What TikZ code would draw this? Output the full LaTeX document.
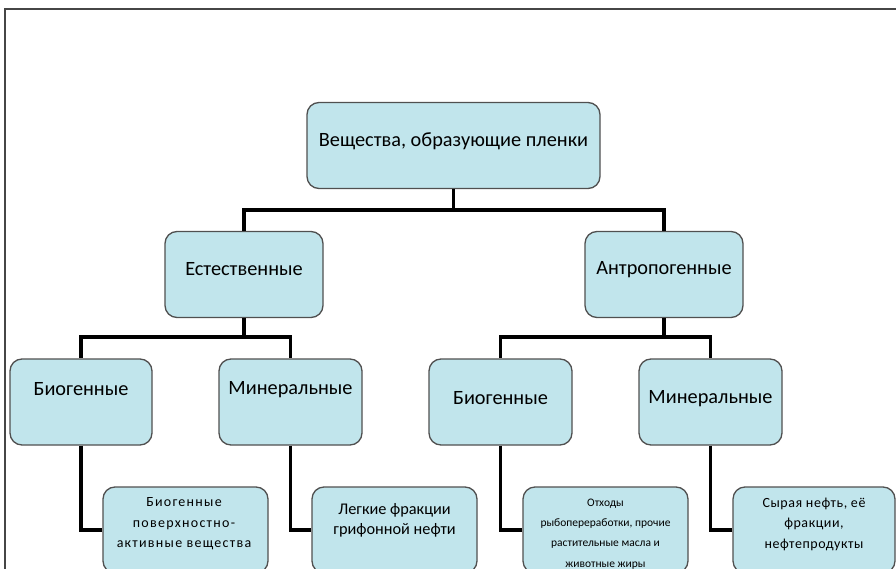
\documentclass[tikz,border=0pt]{standalone}
\usepackage{fontspec}
\setmainfont{Carlito}
\definecolor{boxfill}{RGB}{193,229,236}
\definecolor{boxline}{RGB}{80,80,80}
\definecolor{framecol}{RGB}{70,70,70}
\begin{document}
\begin{tikzpicture}[x=1pt,y=-1pt,
  box/.style={draw=boxline, line width=1.3pt, fill=boxfill, rounded corners=12pt,
    minimum height=86pt, inner sep=0pt},
  bigtxt/.style={font=\fontsize{20.3}{24}\selectfont, inner sep=0pt},
  smalltxt/.style={align=center, inner sep=0pt},
  conn/.style={draw=black, line width=3.5pt, line join=miter}]
\useasboundingbox (0,0) rectangle (896,569);
\clip (0,0) rectangle (896,569);
\fill[white] (0,0) rectangle (896,569);
\draw[framecol, line width=2pt] (4.5,569) -- (4.5,9.5) -- (896,9.5);
% boxes
\node[box, minimum width=293pt] (root) at (453.5,145.5) {};
\node[box, minimum width=158pt] (est) at (244,274.5) {};
\node[box, minimum width=158pt] (antr) at (664,274.5) {};
\node[box, minimum width=142pt] (bio1) at (81,402) {};
\node[box, minimum width=143pt] (min1) at (290.5,402) {};
\node[box, minimum width=143pt] (bio2) at (500.5,402) {};
\node[box, minimum width=143pt] (min2) at (710.5,402) {};
\node[box, minimum width=165pt] (l1) at (185.5,530) {};
\node[box, minimum width=165pt] (l2) at (394.5,530) {};
\node[box, minimum width=165pt] (l3) at (605.5,530) {};
\node[box, minimum width=162pt] (l4) at (814,530) {};
% texts
\node[bigtxt] (roott) at (453.5,141.5) {Вещества, образующие пленки};
\node[bigtxt] (estt) at (244,269.5) {Естественные};
\node[bigtxt] (antrt) at (664,269.5) {Антропогенные};
\node[bigtxt] (bio1t) at (81,389.5) {Биогенные};
\node[bigtxt] (min1t) at (290.5,389.5) {Минеральные};
\node[bigtxt] (bio2t) at (500.5,398.5) {Биогенные};
\node[bigtxt] (min2t) at (710.5,398.5) {Минеральные};
\node[smalltxt, font=\fontsize{14}{20.5}\selectfont\addfontfeature{LetterSpace=9}] (l1t) at (184,524)
  {Биогенные\\поверхностно-\\активные вещества};
\node[smalltxt, font=\fontsize{16.3}{20}\selectfont] (l2t) at (394.5,520.5)
  {Легкие фракции\\грифонной нефти};
\node[smalltxt, font=\fontsize{11.5}{20.3}\selectfont] (l3t) at (605.5,534)
  {Отходы\\рыбопереработки, прочие\\растительные масла и\\животные жиры};
\node[smalltxt, font=\fontsize{14}{20.5}\selectfont\addfontfeature{LetterSpace=4}] (l4t) at (814,524)
  {Сырая нефть, её\\фракции,\\нефтепродукты};
% connectors
\coordinate (j0) at (453.5,210);
\coordinate (j1) at (244,337);
\coordinate (j2) at (664,337);
\draw[conn] (root.south) -- (j0) -| (est.north);
\draw[conn] (j0) -| (antr.north);
\draw[conn] (est.south) -- (j1) -| (bio1.north);
\draw[conn] (j1) -| (min1.north);
\draw[conn] (antr.south) -- (j2) -| (bio2.north);
\draw[conn] (j2) -| (min2.north);
\draw[conn] (bio1.south) |- (l1.west);
\draw[conn] (min1.south) |- (l2.west);
\draw[conn] (bio2.south) |- (l3.west);
\draw[conn] (min2.south) |- (l4.west);
\end{tikzpicture}
\end{document}
